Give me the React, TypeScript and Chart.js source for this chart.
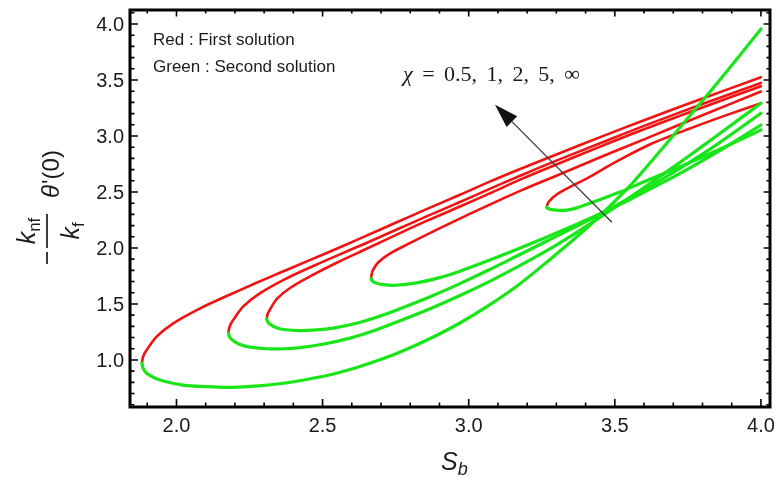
import React, { useEffect, useRef } from "react";
import { Chart, registerables } from "chart.js";

Chart.register(...registerables);

// ---------------- data ----------------
// First solution (red) branches: from the turning point up to Sb = 4
const firstA: [number, number][] = [
  [1.882, 0.972], [1.884, 1.012], [1.8895, 1.052], [1.898, 1.089], [1.932, 1.208],
  [1.989, 1.327], [2.081, 1.461], [2.18, 1.58], [2.27, 1.685], [2.36, 1.785],
  [2.45, 1.885], [2.55, 1.995], [2.65, 2.11], [2.75, 2.225], [2.85, 2.34],
  [2.97, 2.475], [3.07, 2.59], [3.176, 2.705], [3.3, 2.835], [3.45, 2.99],
  [3.6, 3.14], [3.8, 3.335], [4.0, 3.524],
];
const firstB: [number, number][] = [
  [2.178, 1.24], [2.18, 1.28], [2.1855, 1.32], [2.194, 1.357], [2.228, 1.476],
  [2.285, 1.595], [2.377, 1.729], [2.476, 1.848], [2.561, 1.945], [2.65, 2.045],
  [2.75, 2.16], [2.85, 2.275], [2.97, 2.41], [3.07, 2.525], [3.176, 2.645],
  [3.3, 2.78], [3.45, 2.935], [3.6, 3.09], [3.8, 3.285], [4.0, 3.474],
];
const firstC: [number, number][] = [
  [2.309, 1.366], [2.3113, 1.406], [2.322, 1.46], [2.345, 1.55], [2.39, 1.645],
  [2.46, 1.75], [2.55, 1.87], [2.652, 1.995], [2.75, 2.115], [2.85, 2.235],
  [2.97, 2.37], [3.07, 2.485], [3.176, 2.61], [3.3, 2.745], [3.45, 2.905],
  [3.6, 3.06], [3.8, 3.255], [4.0, 3.444],
];
const firstD: [number, number][] = [
  [2.666, 1.725], [2.6675, 1.76], [2.672, 1.8], [2.69, 1.87], [2.73, 1.95],
  [2.8, 2.045], [2.9, 2.175], [3.0, 2.3], [3.1, 2.42], [3.176, 2.51],
  [3.3, 2.645], [3.45, 2.81], [3.6, 2.97], [3.8, 3.185], [4.0, 3.397],
];
const firstE: [number, number][] = [
  [3.267, 2.365], [3.2695, 2.39], [3.275, 2.415], [3.29, 2.455], [3.315, 2.5],
  [3.35, 2.55], [3.4, 2.615], [3.46, 2.705], [3.54, 2.82], [3.629, 2.935],
  [3.75, 3.06], [3.87, 3.175], [4.0, 3.292],
];

// Second solution (green) branches: from the turning point to Sb = 4
const secondA: [number, number][] = [
  [1.882, 0.972], [1.8837, 0.942], [1.889, 0.912], [1.898, 0.881], [1.944, 0.821],
  [2.023, 0.776], [2.1, 0.762], [2.19, 0.756], [2.28, 0.768], [2.366, 0.792],
  [2.45, 0.828], [2.537, 0.875], [2.62, 0.935], [2.708, 1.012], [2.79, 1.098],
  [2.879, 1.205], [2.97, 1.33], [3.07, 1.49], [3.17, 1.67], [3.27, 1.88],
  [3.37, 2.1], [3.45, 2.29], [3.55, 2.55], [3.65, 2.85], [3.75, 3.16],
  [3.85, 3.47], [4.0, 3.955],
];
const secondB: [number, number][] = [
  [2.178, 1.24], [2.181, 1.21], [2.19, 1.18], [2.215, 1.14], [2.252, 1.115],
  [2.309, 1.1], [2.37, 1.1], [2.423, 1.11], [2.5, 1.14], [2.594, 1.195],
  [2.68, 1.265], [2.765, 1.35], [2.87, 1.46], [2.97, 1.575], [3.07, 1.7],
  [3.17, 1.835], [3.27, 1.98], [3.37, 2.14], [3.45, 2.275], [3.55, 2.45],
  [3.65, 2.63], [3.75, 2.815], [3.85, 3.005], [4.0, 3.292],
];
const secondC: [number, number][] = [
  [2.309, 1.366], [2.3117, 1.343], [2.32, 1.32], [2.34, 1.29], [2.366, 1.272],
  [2.42, 1.262], [2.48, 1.268], [2.537, 1.285], [2.62, 1.33], [2.7, 1.395],
  [2.765, 1.458], [2.87, 1.567], [2.97, 1.682], [3.07, 1.805], [3.17, 1.935],
  [3.27, 2.065], [3.37, 2.195], [3.45, 2.305], [3.55, 2.445], [3.65, 2.595],
  [3.75, 2.755], [3.85, 2.925], [4.0, 3.203],
];
const secondD: [number, number][] = [
  [2.666, 1.725], [2.6695, 1.707], [2.68, 1.69], [2.708, 1.673], [2.75, 1.667],
  [2.822, 1.688], [2.9, 1.735], [2.97, 1.793], [3.07, 1.89], [3.17, 1.993],
  [3.27, 2.1], [3.37, 2.212], [3.45, 2.305], [3.55, 2.43], [3.65, 2.565],
  [3.75, 2.705], [3.85, 2.855], [4.0, 3.098],
];
const secondE: [number, number][] = [
  [3.267, 2.365], [3.269, 2.355], [3.28, 2.345], [3.3, 2.338], [3.335, 2.338],
  [3.37, 2.358], [3.415, 2.4], [3.518, 2.5], [3.586, 2.575], [3.7, 2.7],
  [3.8, 2.812], [3.9, 2.93], [4.0, 3.054],
];

const firstSolutions = [firstA, firstB, firstC, firstD, firstE];
const secondSolutions = [secondA, secondB, secondC, secondD, secondE];

// axes
const xRange = [1.841, 4.031];
const yRange = [0.58, 4.125];
const xMajorTicks = [2.0, 2.5, 3.0, 3.5, 4.0];
const xTickLabels = ["2.0", "2.5", "3.0", "3.5", "4.0"];
const yMajorTicks = [1.0, 1.5, 2.0, 2.5, 3.0, 3.5, 4.0];
const yTickLabels = ["1.0", "1.5", "2.0", "2.5", "3.0", "3.5", "4.0"];

// annotations
const legendTexts = ["Red : First solution", "Green : Second solution"];
const chiSymbol = "χ";
const chiTokens = ["=", "0.5,", "1,", "2,", "5,", "∞"];
const arrowTail = [3.49, 2.23];
const arrowTip = [3.09, 3.28];

// ---------------- styling ----------------
const SANS = '"Liberation Sans", Arial, sans-serif';
const SERIF = '"Liberation Serif", "Times New Roman", serif';
const INK = "#1b1b1b";
const RED = "#f21212";
const GREEN = "#19e619";

function drawYTitle(ctx: CanvasRenderingContext2D) {
  ctx.save();
  ctx.translate(47, 209);
  ctx.rotate(-Math.PI / 2);
  ctx.fillStyle = INK;
  ctx.strokeStyle = INK;
  ctx.textAlign = "left";
  ctx.textBaseline = "alphabetic";
  ctx.lineWidth = 1.7;
  ctx.beginPath();
  ctx.moveTo(-55, 0);
  ctx.lineTo(-43, 0);
  ctx.moveTo(-39, 0);
  ctx.lineTo(-5, 0);
  ctx.stroke();

  const kFont = `italic 25px ${SANS}`;
  const subFont = `17px ${SANS}`;
  ctx.font = kFont;
  const kw = ctx.measureText("k").width;
  ctx.font = subFont;
  const nfw = ctx.measureText("nf").width;
  const fw = ctx.measureText("f").width;
  const cx = -22;
  let sx = cx - (kw + nfw) / 2;
  ctx.font = kFont;
  ctx.fillText("k", sx, -12);
  ctx.font = subFont;
  ctx.fillText("nf", sx + kw, -7);
  sx = cx - (kw + fw) / 2;
  ctx.font = kFont;
  ctx.fillText("k", sx, 32);
  ctx.font = subFont;
  ctx.fillText("f", sx + kw, 37);

  ctx.font = `italic 24px ${SANS}`;
  ctx.fillText("θ", 11, 12);
  const tw = ctx.measureText("θ").width;
  ctx.font = `24px ${SANS}`;
  ctx.fillText("'(0)", 11 + tw + 1, 12);
  ctx.restore();
}

const decorPlugin = {
  id: "decor",
  afterDatasetsDraw(chart: any) {
    const ctx: CanvasRenderingContext2D = chart.ctx;
    const xs = chart.scales.x;
    const ys = chart.scales.y;
    const x0 = xs.getPixelForValue(arrowTail[0]);
    const y0 = ys.getPixelForValue(arrowTail[1]);
    const x1 = xs.getPixelForValue(arrowTip[0]);
    const y1 = ys.getPixelForValue(arrowTip[1]);
    const ang = Math.atan2(y1 - y0, x1 - x0);
    const L = 24;
    const W = 7.5;
    const bx = x1 - L * Math.cos(ang);
    const by = y1 - L * Math.sin(ang);
    ctx.save();
    ctx.strokeStyle = "#3a3a3a";
    ctx.fillStyle = "#111";
    ctx.lineWidth = 1.3;
    ctx.beginPath();
    ctx.moveTo(x0, y0);
    ctx.lineTo(bx, by);
    ctx.stroke();
    ctx.beginPath();
    ctx.moveTo(x1, y1);
    ctx.lineTo(bx - W * Math.sin(ang), by + W * Math.cos(ang));
    ctx.lineTo(bx + W * Math.sin(ang), by - W * Math.cos(ang));
    ctx.closePath();
    ctx.fill();
    ctx.restore();
  },
  afterDraw(chart: any) {
    const ctx: CanvasRenderingContext2D = chart.ctx;
    const xs = chart.scales.x;
    const ys = chart.scales.y;
    const { left, right, top, bottom } = chart.chartArea;
    ctx.save();
    // frame
    ctx.strokeStyle = "#000";
    ctx.lineWidth = 3;
    ctx.strokeRect(left, top, right - left, bottom - top);
    // ticks
    ctx.lineWidth = 1.6;
    ctx.beginPath();
    for (let i = Math.ceil(xs.min * 10); i <= Math.floor(xs.max * 10); i++) {
      const px = xs.getPixelForValue(i / 10);
      const len = i % 5 === 0 ? 8 : 4.5;
      ctx.moveTo(px, bottom);
      ctx.lineTo(px, bottom - len);
      ctx.moveTo(px, top);
      ctx.lineTo(px, top + len * 0.8);
    }
    for (let i = Math.ceil(ys.min * 10); i <= Math.floor(ys.max * 10); i++) {
      const py = ys.getPixelForValue(i / 10);
      const len = i % 5 === 0 ? 8 : 4.5;
      ctx.moveTo(left, py);
      ctx.lineTo(left + len, py);
      ctx.moveTo(right, py);
      ctx.lineTo(right - len * 0.8, py);
    }
    ctx.stroke();

    // tick labels
    ctx.fillStyle = INK;
    ctx.font = `20px ${SANS}`;
    ctx.textBaseline = "alphabetic";
    ctx.textAlign = "center";
    xMajorTicks.forEach((v, i) => {
      ctx.fillText(xTickLabels[i], xs.getPixelForValue(v), bottom + 25);
    });
    ctx.textAlign = "right";
    yMajorTicks.forEach((v, i) => {
      ctx.fillText(yTickLabels[i], left - 6, ys.getPixelForValue(v) + 7);
    });

    // legend texts
    ctx.textAlign = "left";
    ctx.font = `17px ${SANS}`;
    ctx.fillText(legendTexts[0], 153, 45);
    ctx.fillText(legendTexts[1], 153, 72);

    // chi label, tokens spread to the reference width
    const chiLeft = 403;
    const chiWidth = 177;
    const chiBase = 81;
    const chiSize = 22;
    ctx.font = `italic ${chiSize}px ${SERIF}`;
    const cw = ctx.measureText(chiSymbol).width;
    ctx.font = `${chiSize}px ${SERIF}`;
    const tokW = chiTokens.map((t) => ctx.measureText(t).width);
    const used = cw + tokW.reduce((a, b) => a + b, 0);
    const gap = (chiWidth - used) / chiTokens.length;
    ctx.font = `italic ${chiSize}px ${SERIF}`;
    ctx.fillText(chiSymbol, chiLeft, chiBase);
    ctx.font = `${chiSize}px ${SERIF}`;
    let cx = chiLeft + cw;
    chiTokens.forEach((t, i) => {
      cx += gap;
      ctx.fillText(t, cx, chiBase);
      cx += tokW[i];
    });

    // x-axis title S_b
    ctx.font = `italic 25px ${SANS}`;
    ctx.fillText("S", 441, 470);
    const sw = ctx.measureText("S").width;
    ctx.font = `italic 18px ${SANS}`;
    ctx.fillText("b", 441 + sw, 475);

    drawYTitle(ctx);
    ctx.restore();
  },
};

export default function App() {
  const canvasRef = useRef<HTMLCanvasElement | null>(null);

  useEffect(() => {
    if (!canvasRef.current) return;
    const toPts = (arr: [number, number][]) => arr.map(([x, y]) => ({ x, y }));
    const greenSets = secondSolutions.map((s, i) => ({
      label: `second-${i}`,
      data: toPts(s),
      showLine: true,
      borderColor: GREEN,
      borderWidth: 3.2,
      pointRadius: 0,
      tension: 0.3,
      fill: false,
    }));
    const redSets = firstSolutions.map((s, i) => ({
      label: `first-${i}`,
      data: toPts(s),
      showLine: true,
      borderColor: RED,
      borderWidth: 2.6,
      pointRadius: 0,
      tension: 0.3,
      fill: false,
    }));
    const chart = new Chart(canvasRef.current, {
      type: "scatter",
      data: { datasets: [...greenSets, ...redSets] as any },
      options: {
        animation: false,
        responsive: false,
        devicePixelRatio: 1,
        layout: { padding: { left: 130, right: 6, top: 10, bottom: 70 } },
        scales: {
          x: { type: "linear", min: xRange[0], max: xRange[1], display: false },
          y: { type: "linear", min: yRange[0], max: yRange[1], display: false },
        },
        plugins: {
          legend: { display: false },
          tooltip: { enabled: false },
        },
        elements: { point: { radius: 0 }, line: { borderJoinStyle: "round", borderCapStyle: "round" } },
      } as any,
      plugins: [decorPlugin],
    });
    return () => chart.destroy();
  }, []);

  return (
    <div style={{ position: "absolute", left: 0, top: 0, width: 776, height: 477, background: "#fff" }}>
      <canvas ref={canvasRef} width={776} height={477} style={{ display: "block" }} />
    </div>
  );
}
